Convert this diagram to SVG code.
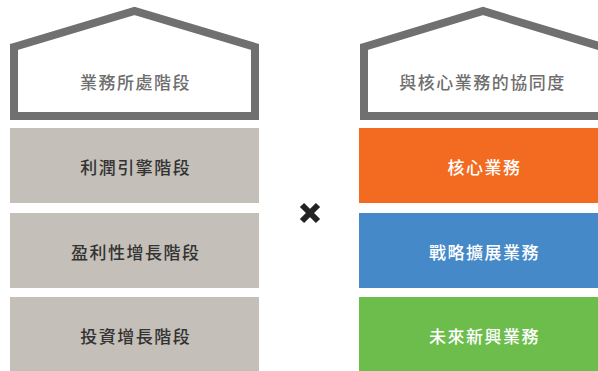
<svg xmlns="http://www.w3.org/2000/svg" width="598" height="371" viewBox="0 0 598 371">
<style>
.house{fill:#ffffff;stroke:#707070;stroke-width:8;stroke-linejoin:miter}
.t{font-family:"Noto Sans CJK TC","Noto Sans CJK SC",sans-serif;font-size:17px;letter-spacing:1.5px;text-anchor:middle;dominant-baseline:central;font-weight:500}
.ht{fill:#6e6e6e}
.lt{fill:#333333}
.rt{fill:#ffffff}
.lbox{fill:#c4bfb8}
</style>
<rect width="598" height="371" fill="#ffffff"/>
<g id="house-left">
<polygon class="house" points="14,47 134.5,11 255,47 255,116 14,116"/>
<text class="t ht" x="135.5" y="81">業務所處階段</text>
</g>
<g id="house-right">
<polygon class="house" points="364,47 483,11 602,47 602,116 364,116"/>
<text class="t ht" x="482.5" y="81">與核心業務的協同度</text>
</g>
<g id="left-1">
<rect class="lbox" x="10" y="128" width="249" height="75"/>
<text class="t lt" x="135.8" y="166">利潤引擎階段</text>
</g>
<g id="left-2">
<rect class="lbox" x="10" y="213" width="249" height="75"/>
<text class="t lt" x="135.8" y="251">盈利性增長階段</text>
</g>
<g id="left-3">
<rect class="lbox" x="10" y="297" width="249" height="76"/>
<text class="t lt" x="135.8" y="335">投資增長階段</text>
</g>
<g id="right-1">
<rect x="359" y="128" width="248" height="75" fill="#f26b21"/>
<text class="t rt" x="484.5" y="166">核心業務</text>
</g>
<g id="right-2">
<rect x="359" y="213" width="248" height="75" fill="#4589c8"/>
<text class="t rt" x="484.5" y="251">戰略擴展業務</text>
</g>
<g id="right-3">
<rect x="359" y="297" width="248" height="76" fill="#6cbd4c"/>
<text class="t rt" x="484.5" y="335">未來新興業務</text>
</g>
<g id="times">
<path d="M302,205 L318,221 M318,205 L302,221" stroke="#222222" stroke-width="6" stroke-linecap="butt"/>
</g>
</svg>
